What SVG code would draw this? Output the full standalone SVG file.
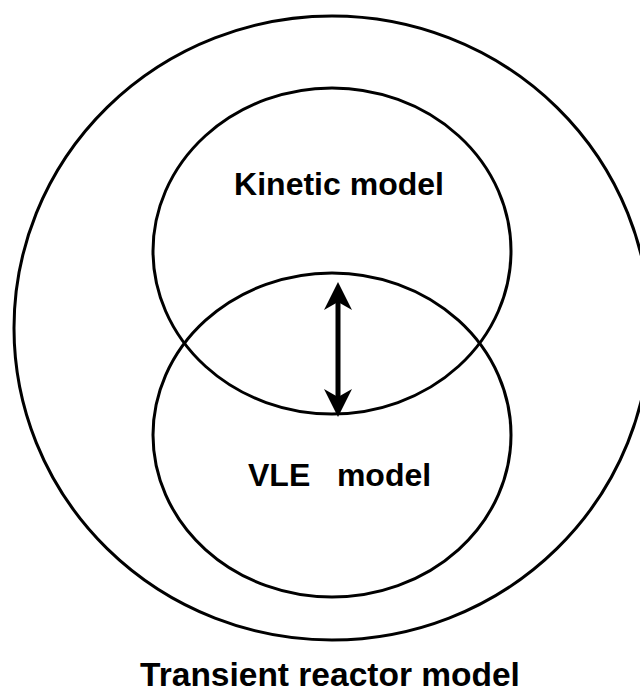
<svg xmlns="http://www.w3.org/2000/svg" width="640" height="693" viewBox="0 0 640 693">
<style>
.ring{fill:none;stroke:#000;stroke-width:3}
.lbl{font-family:"Liberation Sans",Arial,sans-serif;font-weight:bold;font-size:32px;fill:#000}
</style>
<rect width="640" height="693" fill="#fff"/>
<g id="transient">
<ellipse class="ring" cx="332" cy="328" rx="318" ry="312"/>
<text class="lbl" x="330" y="686" text-anchor="middle" style="font-size:33.5px">Transient reactor model</text>
</g>
<g id="kinetic">
<ellipse class="ring" cx="332" cy="251" rx="179" ry="163"/>
<text class="lbl" x="339" y="195" text-anchor="middle">Kinetic model</text>
</g>
<g id="vle">
<ellipse class="ring" cx="332" cy="435" rx="179" ry="162"/>
<text class="lbl" x="248" y="486" xml:space="preserve">VLE   model</text>
</g>
<g id="connectors">
<line x1="338" y1="298" x2="338" y2="401" stroke="#000" stroke-width="5"/>
<polygon points="338,282 352,310 338,302 324,310" fill="#000"/>
<polygon points="338,417 352,389 338,397 324,389" fill="#000"/>
</g>
</svg>
